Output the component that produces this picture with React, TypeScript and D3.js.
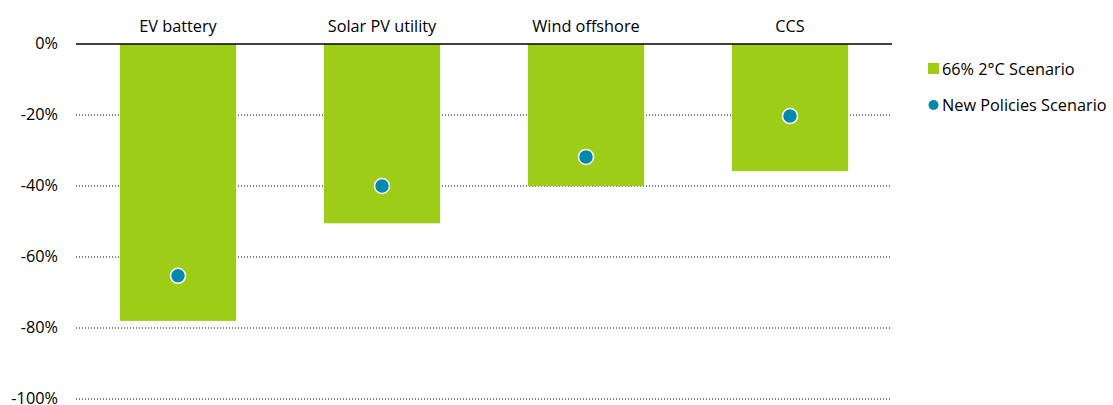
import React from "react";
import * as d3 from "d3";

const categories = ["EV battery", "Solar PV utility", "Wind offshore", "CCS"];
const sds66Values = [-78, -50.5, -40, -35.8];
const npsValues = [-65.3, -40, -31.8, -20.3];
const yTicks = [0, -20, -40, -60, -80, -100];
const legendLabels = ["66% 2°C Scenario", "New Policies Scenario"];

const W = 1113;
const H = 405;
const left = 76;
const right = 892;
const top = 44;
const bottom = 399;
const green = "#9ECD17";
const teal = "#0088AD";
const font = "'Open Sans', 'Noto Sans', sans-serif";
const fs = 16.3;

export default function App() {
  const x = d3.scaleBand<string>().domain(categories).range([left, right]).paddingInner(0.43).paddingOuter(0.215);
  const y = d3.scaleLinear().domain([0, -100]).range([top, bottom]);
  return (
    <svg width={W} height={H} style={{ position: "absolute", left: 0, top: 0 }} fontFamily={font}>
      {yTicks.filter((t) => t !== 0).map((t) => (
        <line key={t} x1={left} x2={right} y1={y(t)} y2={y(t)} stroke="#000" strokeWidth={1} strokeDasharray="1,2" />
      ))}
      {yTicks.map((t) => (
        <text key={"l" + t} x={58} y={y(t)} dy="0.33em" textAnchor="end" fontSize={fs} fill="#000">
          {t + "%"}
        </text>
      ))}
      {categories.map((c, i) => (
        <rect key={c} x={x(c)} y={y(0)} width={x.bandwidth()} height={y(sds66Values[i]) - y(0)} fill={green} />
      ))}
      <line x1={left} x2={right} y1={y(0)} y2={y(0)} stroke="#000" strokeWidth={1.5} />
      {categories.map((c) => (
        <text key={"c" + c} x={(x(c) as number) + x.bandwidth() / 2} y={26} dy="0.35em" textAnchor="middle" fontSize={fs} fill="#000">
          {c}
        </text>
      ))}
      {categories.map((c, i) => (
        <circle key={"d" + c} cx={(x(c) as number) + x.bandwidth() / 2} cy={y(npsValues[i])} r={7.5} fill={teal} stroke="#fff" strokeWidth={1.5} />
      ))}
      <rect x={928} y={63} width={11} height={11} fill={green} />
      <text x={942} y={69} dy="0.35em" fontSize={fs} fill="#000">{legendLabels[0]}</text>
      <circle cx={933.5} cy={105} r={5} fill={teal} />
      <text x={942} y={105} dy="0.35em" fontSize={fs} fill="#000">{legendLabels[1]}</text>
    </svg>
  );
}
